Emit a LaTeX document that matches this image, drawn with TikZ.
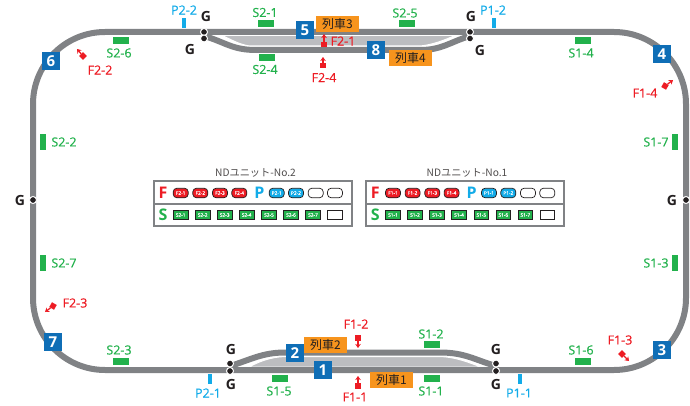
\documentclass[tikz,border=0pt]{standalone}
\usepackage{fontspec}
\setmainfont{Open Sans}
\newfontfamily\cjk{Noto Sans CJK JP}
\newfontfamily\lab[FakeBold=0.5]{Open Sans}
\definecolor{trk}{HTML}{808285}
\definecolor{plat}{HTML}{BCBDC0}
\definecolor{bluebox}{HTML}{0F6EB6}
\definecolor{orangebox}{HTML}{F7941D}
\definecolor{grn}{HTML}{22B14C}
\definecolor{rd}{HTML}{ED1C24}
\definecolor{cy}{HTML}{12ABE8}
\definecolor{ink}{HTML}{231F20}
\usetikzlibrary{arrows.meta}
\tikzset{
  track/.style={draw=trk,line width=6pt},
  numbox/.style={fill=bluebox,text=white,minimum size=18pt,inner sep=0pt,font=\fontsize{15}{15}\selectfont\bfseries},
  trainbox/.style={fill=orangebox,text=ink,minimum width=43pt,minimum height=16pt,inner sep=0pt,font=\cjk\fontsize{12}{12}\selectfont},
  sbar/.style={fill=grn,minimum width=16pt,minimum height=7pt,inner sep=0pt},
  vbar/.style={fill=grn,minimum width=6pt,minimum height=16pt,inner sep=0pt},
  ptick/.style={fill=cy,minimum width=4pt,minimum height=10pt,inner sep=0pt},
  slab/.style={text=grn,inner sep=0pt,font=\lab\fontsize{12.5}{13}\selectfont},
  flab/.style={text=rd,inner sep=0pt,font=\lab\fontsize{12.5}{13}\selectfont},
  plab/.style={text=cy,inner sep=0pt,font=\lab\fontsize{12.5}{13}\selectfont},
  glab/.style={text=ink,inner sep=0pt,font=\fontsize{14}{14}\selectfont\bfseries},
  swdot/.style={circle,fill=ink,draw=white,line width=1pt,minimum size=7pt,inner sep=0pt},
  fmark/.style={draw=rd,line width=1.3pt,-{Stealth[length=4pt,width=5.5pt]}},
  frect/.style={fill=rd,minimum size=5.5pt,inner sep=0pt},
  panel/.style={draw=trk,line width=1.2pt},
  ptitle/.style={text=ink!80,inner sep=0pt,font=\cjk\fontsize{10.2}{11}\selectfont},
  bigF/.style={text=rd,inner sep=0pt,font=\fontsize{16}{16}\selectfont\bfseries},
  bigP/.style={text=cy,inner sep=0pt,font=\fontsize{16}{16}\selectfont\bfseries},
  bigS/.style={text=grn,inner sep=0pt,font=\fontsize{16}{16}\selectfont\bfseries},
  ovalr/.style={draw=ink,line width=.7pt,fill=rd,text=white,rounded corners=3.6pt,minimum width=15pt,minimum height=9.5pt,inner sep=0pt,font=\lab\fontsize{4.8}{5}\selectfont},
  ovalc/.style={ovalr,fill=cy},
  ovale/.style={ovalr,fill=white},
  rectg/.style={draw=ink,line width=.6pt,fill=grn,text=white,minimum width=14.5pt,minimum height=9pt,inner sep=0pt,font=\lab\fontsize{4.8}{5}\selectfont},
  recte/.style={rectg,fill=white},
}
\begin{document}
\begin{tikzpicture}[x=1pt,y=-1pt]
\useasboundingbox (0,0) rectangle (690,406);
% platforms
\fill[plat,draw=white,line width=1pt] (222,35.5) -- (455,35.5) .. controls (445,40) and (432,45) .. (420,46) -- (250,46) .. controls (240,45) and (230,39) .. (222,35.5) -- cycle;
\fill[plat,draw=white,line width=1pt] (249,367) .. controls (258,362) and (270,357) .. (285,356.5) -- (440,356.5) .. controls (455,357) and (468,362) .. (481,367) -- cycle;
% outer loop
\draw[track,rounded corners=72pt] (33,32) rectangle (686,370);
% top siding
\draw[track] (204,36) .. controls (225,42) and (232,50) .. (256,50) -- (420,50) .. controls (442,50) and (450,42) .. (470,36);
% bottom siding
\draw[track] (230,366) .. controls (250,360) and (262,352.5) .. (285,352.5) -- (440,352.5) .. controls (465,352.5) and (475,360) .. (496,366);
% switch dots
\node[swdot] (d1) at (204,32) {};
\node[swdot] (d2) at (204,38.5) {};
\node[swdot] (d3) at (470,32) {};
\node[swdot] (d4) at (470,38.5) {};
\node[swdot] (d5) at (230,363.5) {};
\node[swdot] (d6) at (230,371) {};
\node[swdot] (d7) at (496,363.5) {};
\node[swdot] (d8) at (496,371) {};
\node[swdot] (d9) at (33,200) {};
\node[swdot] (d10) at (686,200) {};
% G labels
\node[glab] (g1) at (206,17) {G};
\node[glab] (g2) at (190,50) {G};
\node[glab] (g3) at (471,17) {G};
\node[glab] (g4) at (480,51) {G};
\node[glab] (g5) at (231,349) {G};
\node[glab] (g6) at (231,384) {G};
\node[glab] (g7) at (496,349) {G};
\node[glab] (g8) at (496,384) {G};
\node[glab] (g9) at (20,200) {G};
\node[glab] (g10) at (672,200) {G};
% number boxes
\node[numbox] (n1) at (323,370) {1};
\node[numbox] (n2) at (295,353) {2};
\node[numbox] (n3) at (662,350) {3};
\node[numbox] (n4) at (662,54) {4};
\node[numbox] (n5) at (305,30) {5};
\node[numbox] (n6) at (51,61) {6};
\node[numbox] (n7) at (53,342) {7};
\node[numbox] (n8) at (376,50) {8};
% trains
\node[trainbox] (t1) at (391.5,379.5) {列車1};
\node[trainbox] (t2) at (325.5,345) {列車2};
\node[trainbox] (t3) at (337.5,24) {列車3};
\node[trainbox] (t4) at (410.5,58) {列車4};
% S sensors
\node[sbar] (s21) at (266,23.5) {};
\node[slab] (ls21) at (265,12.5) {S2-1};
\node[sbar] (s25) at (407,23.5) {};
\node[slab] (ls25) at (405,13) {S2-5};
\node[sbar] (s24) at (267,57.5) {};
\node[slab] (ls24) at (265,69.5) {S2-4};
\node[sbar] (s26) at (121,40.5) {};
\node[slab] (ls26) at (119,53) {S2-6};
\node[sbar] (s14) at (583,40.5) {};
\node[slab] (ls14) at (581,53) {S1-4};
\node[sbar] (s23) at (121,361.5) {};
\node[slab] (ls23) at (119,350) {S2-3};
\node[sbar] (s16) at (583,361.5) {};
\node[slab] (ls16) at (581,350) {S1-6};
\node[sbar] (s12) at (432,344.5) {};
\node[slab] (ls12) at (431,334) {S1-2};
\node[sbar] (s11) at (432,378.5) {};
\node[slab] (ls11) at (431,391) {S1-1};
\node[sbar] (s15) at (280,378.5) {};
\node[slab] (ls15) at (279,391) {S1-5};
\node[vbar] (s22) at (43,142) {};
\node[slab] (ls22) at (64,142) {S2-2};
\node[vbar] (s27) at (43,263) {};
\node[slab] (ls27) at (64,263) {S2-7};
\node[vbar] (s17) at (675,142) {};
\node[slab] (ls17) at (656,142) {S1-7};
\node[vbar] (s13) at (675,263) {};
\node[slab] (ls13) at (656,263) {S1-3};
% P ticks
\node[ptick] (p22) at (184,23) {};
\node[plab] (lp22) at (184,10) {P2-2};
\node[ptick] (p12) at (494,23) {};
\node[plab] (lp12) at (493,10) {P1-2};
\node[ptick] (p21) at (210,379) {};
\node[plab] (lp21) at (208,393) {P2-1};
\node[ptick] (p11) at (520,379) {};
\node[plab] (lp11) at (519,393) {P1-1};
% F sensors
\node[frect] (f21) at (324,44.5) {};
\coordinate (f21t) at (324,34);
\draw[fmark] (f21) -- (f21t);
\node[flab] (lf21) at (343,41) {F2-1};
\node[frect] (f24) at (323,65.5) {};
\coordinate (f24t) at (323,57);
\draw[fmark] (f24) -- (f24t);
\node[flab] (lf24) at (324,77.5) {F2-4};
\node[frect] (f12) at (358,338) {};
\coordinate (f12t) at (358,348);
\draw[fmark] (f12) -- (f12t);
\node[flab] (lf12) at (356,324) {F1-2};
\node[frect] (f11) at (358,386) {};
\coordinate (f11t) at (358,376);
\draw[fmark] (f11) -- (f11t);
\node[flab] (lf11) at (355,397) {F1-1};
\node[frect,rotate=45] (f22) at (83,56) {};
\coordinate (f22t) at (77,49);
\draw[fmark] (f22) -- (f22t);
\node[flab] (lf22) at (100,70) {F2-2};
\node[frect,rotate=45] (f13) at (622,354) {};
\coordinate (f13t) at (629,361);
\draw[fmark] (f13) -- (f13t);
\node[flab] (lf13) at (620,340) {F1-3};
\node[frect,rotate=60] (f14) at (665,86) {};
\coordinate (f14t) at (673,80);
\draw[fmark] (f14) -- (f14t);
\node[flab] (lf14) at (645,93) {F1-4};
\node[frect,rotate=60] (f23) at (53,306) {};
\coordinate (f23t) at (45,312);
\draw[fmark] (f23) -- (f23t);
\node[flab] (lf23) at (75,303) {F2-3};
% panels
\draw[panel] (154,181) rectangle (352,226);
\draw[panel] (154,204) -- (352,204);
\draw[panel] (366,181) rectangle (564,226);
\draw[panel] (366,204) -- (564,204);
\node[ptitle] (ti2) at (255.5,173) {NDユニット-No.2};
\node[ptitle] (ti1) at (467,173) {NDユニット-No.1};
\foreach \u/\o in {2/0,1/212.3}{
  \begin{scope}[xshift=\o pt]
  \node[bigF] at (163,193) {F};
  \node[bigP] at (259.3,193) {P};
  \node[bigS] at (163,215) {S};
  \foreach \i/\xx in {1/180.7,2/200.3,3/220,4/239.3}
    \node[ovalr] at (\xx,193) {F\u-\i};
  \foreach \i/\xx in {1/276.7,2/296}
    \node[ovalc] at (\xx,193) {P\u-\i};
  \node[ovale] at (315.7,193) {};
  \node[ovale] at (335,193) {};
  \foreach \i/\xx in {1/180.7,2/202.7,3/224.7,4/246.7,5/269,6/291,7/313}
    \node[rectg] at (\xx,215) {S\u-\i};
  \node[recte] at (335,215) {};
  \end{scope}
}
\end{tikzpicture}
\end{document}
